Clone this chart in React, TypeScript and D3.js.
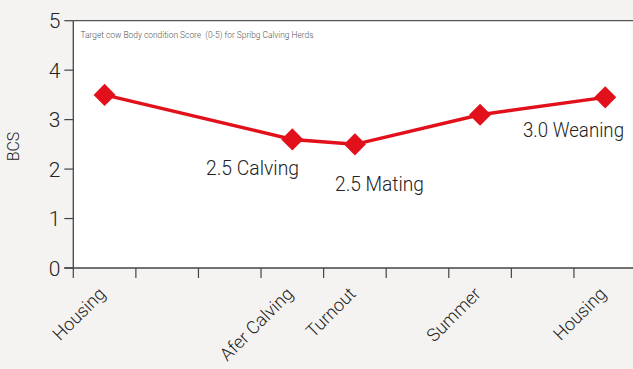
import React from 'react'
import * as d3 from 'd3'

// slots along the x axis (ticks sit between them), only some are labelled
const slotLabels = ['Housing', '', '', 'Afer Calving', 'Turnout', '', 'Summer', '', 'Housing']
const stageSlots = [0, 3, 4, 6, 8]
const bcsValues = [3.5, 2.6, 2.5, 3.1, 3.45]
const yTicks = [0, 1, 2, 3, 4, 5]
const noteTexts = ['2.5 Calving', '2.5 Mating', '3.0 Weaning']
const chartTitle = 'Target cow Body condition Score  (0-5) for Spribg Calving Herds'

const W = 633, H = 369
const left = 73.3, top = 20.7, bottom = 268
const step = 62.58
const red = '#e2101b'
const ink = '#232323'
const font = 'Roboto, "Liberation Sans", Arial, sans-serif'

// pixel placement of the free text notes
const noteLayout = [
  { x: 206, y: 175, len: 93 },
  { x: 335, y: 190.5, len: 89 },
  { x: 523, y: 137, len: 101 },
]

export default function App() {
  const x = d3.scaleBand<number>()
    .domain(d3.range(slotLabels.length))
    .range([left, left + step * slotLabels.length])
  const y = d3.scaleLinear().domain([0, 5]).range([bottom, top])
  const cx = (s: number) => (x(s) as number) + x.bandwidth() / 2

  const pts = stageSlots.map((s, i) => [cx(s), y(bcsValues[i])] as [number, number])
  const line = d3.line()(pts) || ''
  const diamond = d3.symbol().type(d3.symbolSquare).size(15.6 * 15.6)() || ''

  return (
    <svg width={W} height={H} style={{ position: 'absolute', left: 0, top: 0 }} fontFamily={font} fontWeight={300}>
      <rect width={W} height={H} fill="#f4f3f1" />
      <rect x={left} y={top} width={W - left - 0.5} height={bottom - top} fill="#fff" />
      <line x1={left} x2={W} y1={top} y2={top} stroke="#555" strokeWidth={1.3} />

      <text x={80.5} y={38.3} fontSize={9.5} fill="#555" textLength={233} lengthAdjust="spacingAndGlyphs"
        style={{ whiteSpace: 'pre' }}>{chartTitle}</text>

      {/* y axis */}
      <line x1={left} x2={left} y1={top} y2={bottom} stroke="#444" strokeWidth={1.3} />
      {yTicks.map(t => (
        <g key={t} transform={`translate(0,${y(t)})`}>
          <line x1={left - 9} x2={left} stroke="#444" strokeWidth={1.2} />
          <text x={left - 13} dy="0.36em" textAnchor="end" fontSize={21} fill={ink}>{t}</text>
        </g>
      ))}
      <text transform={`translate(19,146.5) rotate(-90)`} textAnchor="middle" fontSize={16} fill={ink}>BCS</text>

      {/* x axis */}
      <line x1={left - 9} x2={W} y1={bottom} y2={bottom} stroke="#444" strokeWidth={1.3} />
      {slotLabels.map((_, i) => (
        <line key={i} x1={x(i)} x2={x(i)} y1={bottom} y2={bottom + 10} stroke="#444" strokeWidth={1.2} />
      ))}
      {slotLabels.map((lab, i) => lab ? (
        <text key={'l' + i} transform={`translate(${cx(i) + 2},${bottom + 27}) rotate(-45)`}
          textAnchor="end" fontSize={18} fill={ink}>{lab}</text>
      ) : null)}

      {/* series */}
      <path d={line} fill="none" stroke={red} strokeWidth={3.5} />
      {pts.map((p, i) => (
        <path key={i} d={diamond} transform={`translate(${p[0]},${p[1]}) rotate(45)`} fill={red} />
      ))}

      {noteTexts.map((t, i) => (
        <text key={t} x={noteLayout[i].x} y={noteLayout[i].y} fontSize={i === 2 ? 20 : 21} fill={ink}
          textLength={noteLayout[i].len} lengthAdjust="spacingAndGlyphs">{t}</text>
      ))}
    </svg>
  )
}
